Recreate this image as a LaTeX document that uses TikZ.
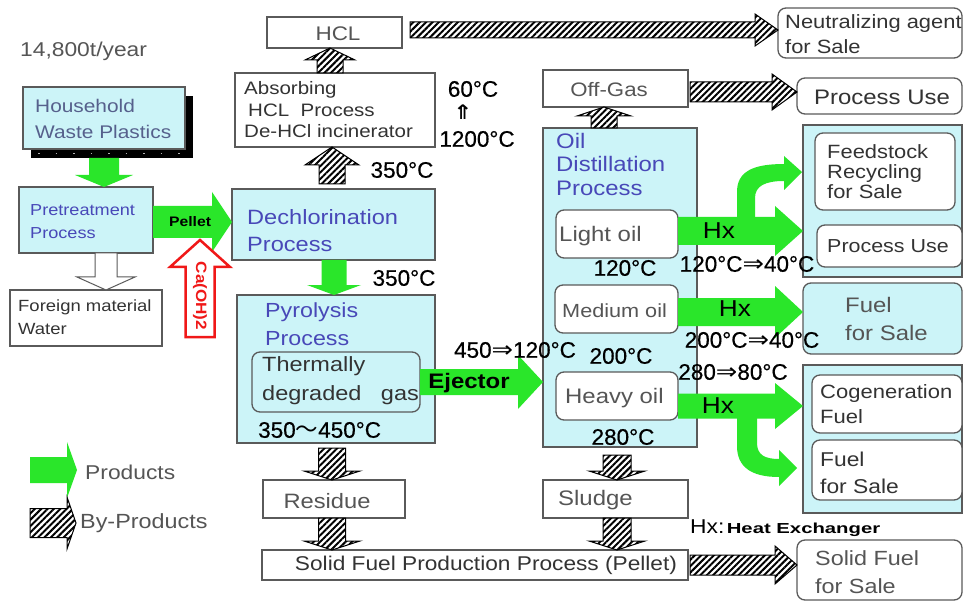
\documentclass[tikz,border=0pt]{standalone}
\usepackage{fontspec}
\setmainfont{Liberation Sans}[FakeStretch=1.14]
\newfontfamily\dv{DejaVu Sans}[FakeStretch=1.14]
\newfontfamily\wide{Liberation Sans}[FakeStretch=1.4]
\newfontfamily\tmpf{Liberation Sans}[FakeBold=0.5]
\newfontfamily\cjk{Noto Sans CJK JP}
\usetikzlibrary{patterns.meta,calc,shadows}
\definecolor{cy}{HTML}{CCF4F8}
\definecolor{bd}{HTML}{5A5A5A}
\definecolor{gr}{HTML}{2AE62A}
\definecolor{bl}{HTML}{4848B8}
\definecolor{tg}{HTML}{555555}
\definecolor{td}{HTML}{333333}
\definecolor{hb}{HTML}{56608C}
\definecolor{rd}{HTML}{F01818}
\newcommand\fs[2]{\fontsize{#1}{#2}\selectfont}
\newcommand\dar{{\dv ⇒}}
% vertical block arrow: style, x centre, from, to (tip), shaft half, head half, head length
\newcommand\varr[7]{%
  \path[#1] let \p1=#3, \p2=#4, \n1={ifthenelse(\y2>\y1,-1,1)} in
    ({(#2-#5)*1pt},\y1) -- ({(#2-#5)*1pt},{\y2+(\n1)*#7*1pt})
    -- ({(#2-#6)*1pt},{\y2+(\n1)*#7*1pt}) -- ({#2*1pt},\y2)
    -- ({(#2+#6)*1pt},{\y2+(\n1)*#7*1pt}) -- ({(#2+#5)*1pt},{\y2+(\n1)*#7*1pt})
    -- ({(#2+#5)*1pt},\y1) -- cycle;}
% horizontal block arrow: style, y centre, from, to (tip), shaft half, head half, head length
\newcommand\harr[7]{%
  \path[#1] let \p1=#3, \p2=#4, \n1={ifthenelse(\x2>\x1,-1,1)} in
    (\x1,{(-#2+#5)*1pt}) -- ({\x2+(\n1)*#7*1pt},{(-#2+#5)*1pt})
    -- ({\x2+(\n1)*#7*1pt},{(-#2+#6)*1pt}) -- (\x2,{-#2*1pt})
    -- ({\x2+(\n1)*#7*1pt},{(-#2-#6)*1pt}) -- ({\x2+(\n1)*#7*1pt},{(-#2-#5)*1pt})
    -- (\x1,{(-#2-#5)*1pt}) -- cycle;}
\tikzset{
  box/.style={draw=bd, line width=1.3pt, anchor=north west, inner sep=0pt, outer sep=0pt},
  cbox/.style={box, fill=cy},
  wbox/.style={box, fill=white},
  rbox/.style={box, rounded corners=8pt},
  greenarr/.style={fill=gr},
  hatcharr/.style={preaction={fill=white}, pattern={Lines[angle=45,distance=4.5pt,line width=2pt]}, draw=black, line width=1pt, line join=miter},
  redarr/.style={draw=rd, line width=2.5pt, fill=white, line join=miter},
  hollowarr/.style={draw=bd, line width=1pt, fill=white},
  txt/.style={inner sep=0pt, align=left},
  temp/.style={txt, font=\tmpf\fs{22.5}{24}, text=black},
}
\begin{document}
\begin{tikzpicture}[x=1pt,y=-1pt]
\useasboundingbox (0,0) rectangle (965,601);
\fill[white] (0,0) rectangle (965,601);

% ---------- boxes ----------
\node[cbox, minimum width=159pt, minimum height=152pt] (fgrp) at (803,125) {};
\node[cbox, minimum width=159pt, minimum height=148pt] (cgrp) at (803,365) {};
\node[cbox, minimum width=162pt, minimum height=62pt,
      drop shadow={fill=black, opacity=1, shadow xshift=8pt, shadow yshift=-9pt}] (hh) at (23,87) {};
\draw[white!70!black, line width=1.4pt, dash pattern=on 1.5pt off 16pt] (38,153.5) -- (190,153.5);
\node[cbox, minimum width=134pt, minimum height=66pt] (pre) at (19,187) {};
\node[wbox, minimum width=152pt, minimum height=56pt] (for) at (10,290) {};
\node[wbox, minimum width=135pt, minimum height=31pt] (hcl) at (267,17) {};
\node[wbox, minimum width=200pt, minimum height=74pt] (abs) at (235,73) {};
\node[cbox, minimum width=203pt, minimum height=71pt] (dech) at (232,189) {};
\node[cbox, minimum width=198pt, minimum height=148pt] (pyro) at (237,295) {};
\node[rbox, fill=cy, minimum width=168pt, minimum height=60pt] (gas) at (252,352) {};
\node[wbox, minimum width=145pt, minimum height=37pt] (off) at (543,70) {};
\node[cbox, minimum width=154pt, minimum height=319pt] (oil) at (543,128) {};
\node[rbox, fill=white, minimum width=122pt, minimum height=48pt] (light) at (556,210) {};
\node[rbox, fill=white, minimum width=123pt, minimum height=48pt] (medium) at (555,285) {};
\node[rbox, fill=white, minimum width=122pt, minimum height=48pt] (heavy) at (556,372) {};
\node[rbox, fill=white, minimum width=184pt, minimum height=50pt] (neut) at (778,8) {};
\node[rbox, fill=white, minimum width=165pt, minimum height=36pt] (pu1) at (797,78) {};
\node[rbox, fill=white, minimum width=140pt, minimum height=77pt] (feed) at (815,133) {};
\node[rbox, fill=white, minimum width=145pt, minimum height=42pt] (pu2) at (817,225) {};
\node[rbox, fill=cy, minimum width=159pt, minimum height=71pt] (fuel1) at (803,283) {};
\node[rbox, fill=white, minimum width=150pt, minimum height=58pt] (cogen) at (812,375) {};
\node[rbox, fill=white, minimum width=150pt, minimum height=60pt] (fuel2) at (812,440) {};
\node[wbox, minimum width=142pt, minimum height=38pt] (res) at (263,480) {};
\node[wbox, minimum width=145pt, minimum height=38pt] (slud) at (543,480) {};
\node[wbox, minimum width=426pt, minimum height=30pt] (sfp) at (262,550) {};
\node[rbox, fill=white, minimum width=165pt, minimum height=60pt] (sfs) at (797,540) {};

% ---------- coordinates ----------
\coordinate (cab) at (200,337);
\coordinate (cat) at (200,240);
\coordinate (lg1) at (30,470);
\coordinate (lg2) at (77,470);
\coordinate (lh1) at (30,523);
\coordinate (lh2) at (76,523);

% ---------- arrows ----------
\varr{greenarr}{104}{($(hh.south)+(0,9)$)}{(pre.north)}{15}{29}{12}
\harr{greenarr}{222}{(pre.east)}{(dech.west)}{16}{30}{20}
\varr{redarr}{200}{(cab)}{(cat)}{14.5}{30}{27}
\varr{hollowarr}{106}{(pre.south)}{(for.north)}{11}{29}{13}
\varr{hatcharr}{330}{(abs.north)}{(hcl.south)}{13}{25}{12}
\varr{hatcharr}{332}{($(dech.north)+(0,-5)$)}{(abs.south)}{13}{27}{18}
\varr{greenarr}{334}{(dech.south)}{(pyro.north)}{12.5}{27}{10}
\varr{hatcharr}{332}{($(pyro.south)+(0,5)$)}{(res.north)}{13.5}{28}{9}
\varr{hatcharr}{332}{(res.south)}{(sfp.north)}{13.5}{28}{9}
\varr{hatcharr}{604}{(oil.north)}{(off.south)}{13}{27}{9}
\varr{hatcharr}{617}{($(oil.south)+(0,8)$)}{(slud.north)}{14}{28}{9}
\varr{hatcharr}{617}{(slud.south)}{(sfp.north)}{14}{28}{9}
\harr{hatcharr}{30}{($(hcl.east)+(8,0)$)}{(neut.west)}{8}{16}{23}
\harr{hatcharr}{92}{($(off.east)+(2,0)$)}{(pu1.west)}{10}{18}{25}
\harr{greenarr}{382}{(gas.east)}{(oil.west)}{13}{27}{25}
% curved branches
\path[greenarr] (737,218) -- (737,192) .. controls (737,172) and (752,164) .. (784,164)
  -- (784,156) -- (802,172) -- (784,190) -- (784,181)
  .. controls (765,181) and (755,186) .. (755,198) -- (755,218) -- cycle;
\path[greenarr] (737,415) -- (737,446) .. controls (737,466) and (750,477) .. (779,477)
  -- (779,486) -- (797,468) -- (779,450) -- (779,459)
  .. controls (765,459) and (757,455) .. (757,443) -- (757,415) -- cycle;
\harr{greenarr}{231}{(light.east)}{(fgrp.west)}{14}{25}{28}
\harr{greenarr}{312}{(medium.east)}{(fuel1.west)}{14}{26}{28}
\harr{greenarr}{406}{(heavy.east)}{(cgrp.west)}{12.5}{23}{28}
\harr{hatcharr}{565}{($(sfp.east)+(2,0)$)}{(sfs.west)}{10}{19}{22}
\harr{greenarr}{470}{(lg1)}{(lg2)}{13}{28}{10}
\harr{hatcharr}{523}{(lh1)}{(lh2)}{14.5}{26}{9}

% ---------- texts ----------
\node[txt, anchor=west, font=\fs{20}{24}, text=tg] (yearT) at (20,51) {14,800t/year};
\node[txt, anchor=west, font=\fs{18.3}{26}, text=hb] (hhT) at (35,119) {Household\\Waste Plastics};
\node[txt, anchor=west, font=\fs{15.9}{23}, text=bl] (preT) at (30,222) {Pretreatment\\Process};
\node[txt, anchor=west, font=\fs{16.2}{23}, text=td] (forT) at (18,317) {Foreign material\\Water};
\node[txt, font=\fs{19.7}{24}, text=tg] (hclT) at (338,34) {HCL};
\node[txt, anchor=west, font=\fs{18}{21.5}, text=td] (absT) at (244,110) {Absorbing\\\hspace{4pt}HCL\ \ Process\\De-HCl incinerator};
\node[txt, anchor=west, font=\fs{20.7}{27}, text=bl] (dechT) at (247,231) {Dechlorination\\Process};
\node[txt, anchor=west, font=\fs{20.4}{28}, text=bl] (pyT) at (265,324) {Pyrolysis\\Process};
\node[txt, anchor=west, font=\fs{20.6}{29}, text=td] (gasT) at (262,381) {Thermally\\degraded\ \ \ gas};
\node[temp, anchor=west] (rangeT) at (258,430) {350{\cjk ～}450°C};
\node[txt, font=\bfseries\fs{13.8}{14}, text=black] (pelT) at (190,222) {Pellet};
\node[txt, rotate=-90, font=\bfseries\fs{15}{15}, text=rd] (caT) at (200,296) {Ca(OH)2};
\node[temp] (t60) at (473,89) {60°C};
\node[txt, font=\dv\bfseries\fs{20}{20}, text=black] (tup) at (463,112) {⇑};
\node[temp] (t1200) at (477,139) {1200°C};
\node[temp] (t350a) at (402,170) {350°C};
\node[temp] (t350b) at (404,278) {350°C};
\node[temp] (t450) at (515,350) {450\dar120°C};
\node[txt, font=\bfseries\fs{21}{21}, text=black] (ejT) at (469,383) {Ejector};
\node[txt, font=\fs{19.5}{22}, text=tg] (offT) at (609,90) {Off-Gas};
\node[txt, anchor=west, font=\fs{21}{23.5}, text=bl] (oilT) at (556,164) {Oil\\Distillation\\Process};
\node[txt, anchor=west, font=\fs{21}{22}, text=tg] (lightT) at (559,236) {Light oil};
\node[txt, anchor=west, font=\fs{19}{22}, text=tg] (mediumT) at (562,311) {Medium oil};
\node[txt, anchor=west, font=\fs{21}{22}, text=tg] (heavyT) at (565,398) {Heavy oil};
\node[temp] (t120) at (625,268) {120°C};
\node[temp] (t200) at (621,356) {200°C};
\node[temp] (t280) at (623,437) {280°C};
\node[txt, font=\fs{23}{23}, text=black] (hx1) at (719,231) {Hx};
\node[txt, font=\fs{23}{23}, text=black] (hx2) at (735,309) {Hx};
\node[txt, font=\fs{23}{23}, text=black] (hx3) at (718,406) {Hx};
\node[temp] (t12040) at (747,264) {120°C\dar40°C};
\node[temp] (t20040) at (752,340) {200°C\dar40°C};
\node[temp] (t28080) at (733,372) {280\dar80°C};
\node[txt, anchor=west, font=\fs{19.2}{25}, text=td] (neutT) at (785,34) {Neutralizing agent\\for Sale};
\node[txt, font=\fs{21}{22}, text=td] (pu1T) at (882,97) {Process Use};
\node[txt, anchor=west, font=\fs{19.2}{20}, text=td] (feedT) at (827,172) {Feedstock\\Recycling\\for Sale};
\node[txt, anchor=west, font=\fs{18.8}{22}, text=td] (pu2T) at (827,246) {Process Use};
\node[txt, anchor=west, font=\fs{21}{28}, text=tg] (fuel1T) at (845,319) {Fuel\\for Sale};
\node[txt, anchor=west, font=\fs{19.3}{25}, text=td] (cogT) at (820,404) {Cogeneration\\Fuel};
\node[txt, anchor=west, font=\fs{20}{27}, text=td] (fuel2T) at (820,473) {Fuel\\for Sale};
\node[txt, font=\fs{20.8}{22}, text=tg] (resT) at (327,501) {Residue};
\node[txt, anchor=west, font=\fs{21}{22}, text=tg] (sludT) at (558,500) {Sludge};
\node[txt, font=\fs{19.9}{22}, text=td] (sfpT) at (486,565) {Solid Fuel Production Process (Pellet)};
\node[txt, anchor=west, font=\fs{20.5}{28}, text=tg] (sfsT) at (815,572) {Solid Fuel\\for Sale};
\node[txt, anchor=west, font=\fs{20}{22}, text=tg] (prodT) at (85,472) {Products};
\node[txt, anchor=west, font=\fs{20.5}{22}, text=tg] (byT) at (80,523) {By-Products};
\node[txt, anchor=west, text=black] (hxlegT) at (690,528) {{\fs{20}{22}Hx:}{\wide\bfseries\fs{14.5}{18}\,Heat Exchanger}};
\end{tikzpicture}
\end{document}
